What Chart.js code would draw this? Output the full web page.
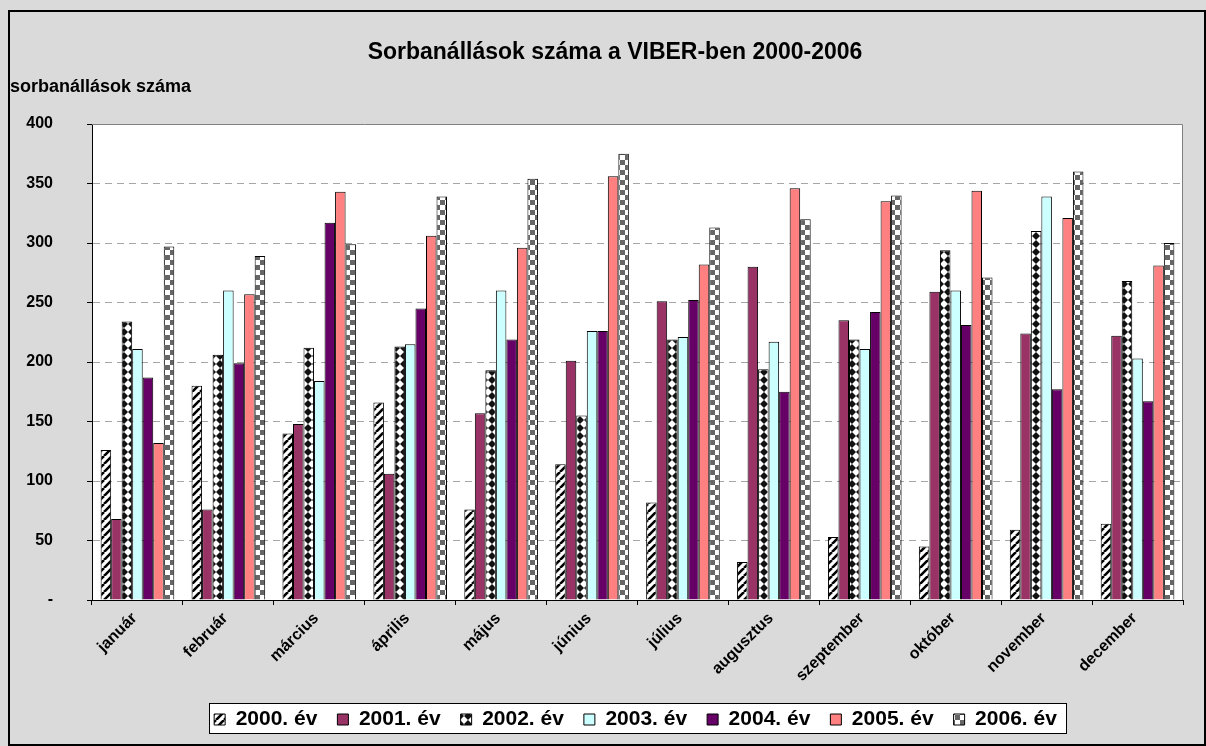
<!DOCTYPE html>
<html>
<head>
<meta charset="utf-8">
<script src="https://cdn.jsdelivr.net/npm/chart.js@4.4.0/dist/chart.umd.min.js"></script>
<style>
  html, body { margin: 0; padding: 0; background: #fff; }
</style>
</head>
<body>
<canvas id="myChart" width="1206" height="746"></canvas>
<script>
// data
const months = ["január", "február", "március", "április", "május", "június",
  "július", "augusztus", "szeptember", "október", "november", "december"];
const yearLabels = ["2000. év", "2001. év", "2002. év", "2003. év", "2004. év", "2005. év", "2006. év"];
const y2000 = [126, 180, 140, 166, 76, 114, 82, 32, 53, 45, 59, 64];
const y2001 = [68, 76, 148, 106, 157, 201, 251, 280, 235, 259, 224, 222];
const y2002 = [234, 206, 212, 213, 193, 155, 219, 194, 219, 294, 310, 268];
const y2003 = [211, 260, 184, 215, 260, 226, 221, 217, 211, 260, 339, 203];
const y2004 = [187, 199, 317, 245, 219, 226, 252, 175, 242, 231, 177, 167];
const y2005 = [132, 257, 343, 306, 296, 356, 282, 346, 335, 344, 321, 281];
const y2006 = [297, 289, 299, 339, 354, 375, 313, 320, 340, 271, 360, 300];
const yTicks = [0, 50, 100, 150, 200, 250, 300, 350, 400];

const FONT = "Arial, 'Liberation Sans', sans-serif";

function makePattern(size, draw) {
  const c = document.createElement("canvas");
  c.width = size;
  c.height = size;
  const g = c.getContext("2d");
  g.fillStyle = "#ffffff";
  g.fillRect(0, 0, size, size);
  draw(g, size);
  return g.createPattern(c, "repeat");
}

// diagonal stripes
const stripes = makePattern(8, (g, s) => {
  g.strokeStyle = "#000";
  g.lineWidth = 2.6;
  g.beginPath();
  for (let k = -1; k <= 1; k++) {
    g.moveTo(k * s, s);
    g.lineTo(k * s + s, 0);
  }
  g.stroke();
});

// diamonds
const diamonds = makePattern(8, (g, s) => {
  g.fillStyle = "#111";
  g.beginPath();
  g.moveTo(s / 2, 0);
  g.lineTo(s, s / 2);
  g.lineTo(s / 2, s);
  g.lineTo(0, s / 2);
  g.closePath();
  g.fill();
});

// gray checkerboard
const checker = makePattern(10, (g, s) => {
  g.fillStyle = "#666666";
  g.fillRect(0, 0, s / 2, s / 2);
  g.fillRect(s / 2, s / 2, s / 2, s / 2);
});

const series = [y2000, y2001, y2002, y2003, y2004, y2005, y2006];
const fills = [stripes, "#993366", diamonds, "#ccffff", "#660066", "#ff8080", checker];

const backgroundPlugin = {
  id: "background",
  afterLayout(chart) {
    // the legend sits right of the canvas centre in the original
    const lg = chart.legend;
    lg.left += 44;
    lg.right += 44;
    lg.legendHitBoxes.forEach((hb) => {
      hb.left += 44;
    });
  },
  beforeDraw(chart) {
    const ctx = chart.ctx;
    const a = chart.chartArea;
    ctx.save();
    ctx.fillStyle = "#dadada";
    ctx.fillRect(0, 0, chart.width, chart.height);
    ctx.strokeStyle = "#000";
    ctx.lineWidth = 2;
    ctx.strokeRect(9, 11, chart.width - 10, chart.height - 12);
    ctx.fillStyle = "#ffffff";
    ctx.fillRect(a.left, a.top, a.right - a.left, a.bottom - a.top);

    ctx.fillStyle = "#000";
    ctx.textBaseline = "middle";
    ctx.font = "bold 23px " + FONT;
    ctx.textAlign = "center";
    ctx.fillText("Sorbanállások száma a VIBER-ben 2000-2006", 615, 53);
    ctx.font = "bold 18px " + FONT;
    ctx.textAlign = "left";
    ctx.fillText("sorbanállások száma", 10, 87);

    // frame round the legend
    const lg = chart.legend;
    const boxes = lg.legendHitBoxes;
    if (boxes && boxes.length) {
      const first = boxes[0];
      const last = boxes[boxes.length - 1];
      const x1 = Math.round(first.left) - 5;
      const x2 = Math.round(last.left + last.width) + 9;
      const y1 = Math.round(lg.top) + 14;
      ctx.fillStyle = "#ffffff";
      ctx.fillRect(x1, y1, x2 - x1, 30);
      ctx.strokeStyle = "#000";
      ctx.lineWidth = 1;
      ctx.strokeRect(x1 + 0.5, y1 + 0.5, x2 - x1, 30);
    }
    ctx.restore();
  },
  beforeDatasetsDraw(chart) {
    const ctx = chart.ctx;
    const a = chart.chartArea;
    ctx.save();
    ctx.strokeStyle = "#808080";
    ctx.lineWidth = 1;
    ctx.beginPath();
    ctx.moveTo(a.left, a.top + 0.5);
    ctx.lineTo(a.right - 0.5, a.top + 0.5);
    ctx.lineTo(a.right - 0.5, a.bottom);
    ctx.stroke();
    ctx.restore();
  },
};

const myChart = new Chart(document.getElementById("myChart").getContext("2d"), {
  type: "bar",
  data: {
    labels: months,
    datasets: series.map((data, i) => ({
      label: yearLabels[i],
      data: data,
      backgroundColor: fills[i],
      borderColor: "#000",
      borderWidth: 1,
      categoryPercentage: 0.81,
      barPercentage: 1.0,
    })),
  },
  options: {
    responsive: false,
    animation: false,
    layout: {
      padding: { left: 0, right: 23, top: 124, bottom: 6 },
    },
    scales: {
      x: {
        grid: {
          drawOnChartArea: false,
          drawTicks: true,
          tickLength: 5,
          tickColor: "#000",
          offset: true,
        },
        border: { color: "#000", width: 1 },
        ticks: {
          color: "#000",
          font: { family: FONT, size: 16, weight: "bold" },
          minRotation: 45,
          maxRotation: 45,
          padding: 4,
          labelOffset: -3,
        },
        afterFit(scale) {
          scale.height = 89;
        },
      },
      y: {
        min: 0,
        max: 400,
        afterBuildTicks(scale) {
          scale.ticks = yTicks.map((v) => ({ value: v }));
        },
        grid: {
          color: "#a6a6a6",
          tickColor: "#000",
          tickLength: 5,
        },
        border: { color: "#000", width: 1, dash: [7, 5] },
        ticks: {
          color: "#000",
          font: { family: FONT, size: 16, weight: "bold" },
          padding: 34,
          callback: (v) => (v === 0 ? "-" : v),
        },
        afterFit(scale) {
          scale.width = 92;
        },
      },
    },
    plugins: {
      legend: {
        position: "bottom",
        labels: {
          color: "#000",
          boxWidth: 11,
          boxHeight: 11,
          padding: 20,
          font: { family: FONT, size: 21, weight: "bold" },
        },
      },
      tooltip: { enabled: false },
    },
  },
  plugins: [backgroundPlugin],
});
</script>
</body>
</html>
